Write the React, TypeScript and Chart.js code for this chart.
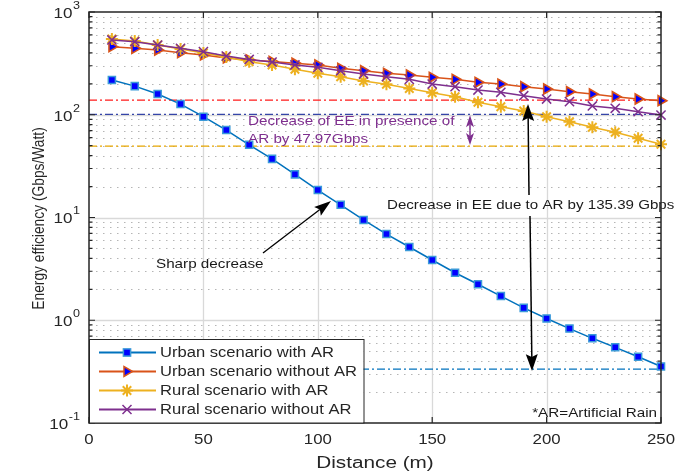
import React, { useEffect, useRef } from "react";
import { Chart, registerables } from "chart.js";

Chart.register(...registerables);

// ---------------- data ----------------
const distance = [10, 20, 30, 40, 50, 60, 70, 80, 90, 100, 110, 120, 130, 140, 150, 160, 170, 180, 190, 200, 210, 220, 230, 240, 250];
const urbanWithAR = [218, 190, 159, 127, 95.7, 71, 51, 37.2, 26.3, 18.5, 13.3, 9.46, 6.9, 5.16, 3.86, 2.9, 2.24, 1.72, 1.32, 1.04, 0.83, 0.667, 0.545, 0.442, 0.355];
const urbanWithoutAR = [460, 443, 427, 402, 382, 357, 341, 330, 317, 305, 283, 268, 253, 244, 231.5, 221, 207, 199, 187.5, 178, 167.6, 159.2, 149.8, 142.3, 137];
const ruralWithAR = [546, 522, 477, 436, 399, 365, 328, 305, 277, 253, 234.6, 213, 198, 180, 163.9, 149.8, 132.2, 119.8, 108.8, 95.7, 85.6, 75.5, 67.5, 59, 51.6];
const ruralWithoutAR = [534, 514, 477, 443, 411, 373, 345, 326, 305, 289.5, 268, 249, 234.6, 221, 199, 187.5, 174, 165.4, 153.2, 142.3, 134, 121.7, 115.6, 107.1, 99.4];

const seriesLabels = ["Urban scenario with AR", "Urban scenario without AR", "Rural scenario with AR", "Rural scenario without AR"];

const xTickValues = [0, 50, 100, 150, 200, 250];
const yDecadeValues = [0.1, 1, 10, 100, 1000];
const yDecadeExponents = ["-1", "0", "1", "2", "3"];

// reference (dash-dot) levels
const refUrbanWithoutLevel = 139;
const refRuralWithoutLevel = 101;
const refRuralWithLevel = 49.6;
const refUrbanWithLevel = 0.335;

const annotationRural = ["Decrease of EE in presence of", "AR by 47.97Gbps"];
const annotationUrban = "Decrease in EE due to AR by 135.39 Gbps";
const annotationSharp = "Sharp decrease";
const footnote = "*AR=Artificial Rain";
const xTitle = "Distance (m)";
const yTitle = "Energy efficiency (Gbps/Watt)";

// ---------------- style ----------------
const FONT = '"Liberation Sans", Arial, Helvetica, sans-serif';
const TXT = "#262626";
const C_BLUE = "#0072bd";
const C_ORANGE = "#d95319";
const C_YELLOW = "#edb120";
const C_PURPLE = "#7e2f8e";
const SX = 1.2; // horizontal text stretch of the reference

function sText(ctx: CanvasRenderingContext2D, text: string, x: number, y: number, align: CanvasTextAlign, size: number, color: string) {
  ctx.save();
  ctx.translate(x, y);
  ctx.scale(SX, 1);
  ctx.font = `${size}px ${FONT}`;
  ctx.fillStyle = color;
  ctx.textAlign = align;
  ctx.textBaseline = "middle";
  ctx.fillText(text, 0, 0);
  ctx.restore();
}

function drawArrow(ctx: CanvasRenderingContext2D, x1: number, y1: number, x2: number, y2: number, color: string, lw: number, headLen: number, headW: number) {
  const ang = Math.atan2(y2 - y1, x2 - x1);
  const bx = x2 - Math.cos(ang) * headLen;
  const by = y2 - Math.sin(ang) * headLen;
  ctx.save();
  ctx.strokeStyle = color;
  ctx.fillStyle = color;
  ctx.lineWidth = lw;
  ctx.setLineDash([]);
  ctx.beginPath();
  ctx.moveTo(x1, y1);
  ctx.lineTo(bx, by);
  ctx.stroke();
  const px = -Math.sin(ang) * headW / 2;
  const py = Math.cos(ang) * headW / 2;
  ctx.beginPath();
  ctx.moveTo(x2, y2);
  ctx.lineTo(bx + px - Math.cos(ang) * 3, by + py - Math.sin(ang) * 3);
  ctx.lineTo(bx, by);
  ctx.lineTo(bx - px - Math.cos(ang) * 3, by - py - Math.sin(ang) * 3);
  ctx.closePath();
  ctx.fill();
  ctx.restore();
}

function drawMarker(ctx: CanvasRenderingContext2D, kind: number, x: number, y: number) {
  ctx.save();
  ctx.setLineDash([]);
  if (kind === 0) {
    const s = 3.6;
    ctx.fillStyle = "#0000ff";
    ctx.strokeStyle = "#3a9ad9";
    ctx.lineWidth = 1.5;
    ctx.fillRect(x - s, y - s, 2 * s, 2 * s);
    ctx.strokeRect(x - s, y - s, 2 * s, 2 * s);
  } else if (kind === 1) {
    ctx.fillStyle = "#0000ff";
    ctx.strokeStyle = C_ORANGE;
    ctx.lineWidth = 1.5;
    ctx.beginPath();
    ctx.moveTo(x + 5.5, y);
    ctx.lineTo(x - 3, y - 5);
    ctx.lineTo(x - 3, y + 5);
    ctx.closePath();
    ctx.fill();
    ctx.stroke();
  } else if (kind === 2) {
    ctx.strokeStyle = C_YELLOW;
    ctx.lineWidth = 2;
    const r = 6;
    ctx.beginPath();
    ctx.moveTo(x - r, y); ctx.lineTo(x + r, y);
    ctx.moveTo(x, y - r); ctx.lineTo(x, y + r);
    const d = r * 0.707;
    ctx.moveTo(x - d, y - d); ctx.lineTo(x + d, y + d);
    ctx.moveTo(x - d, y + d); ctx.lineTo(x + d, y - d);
    ctx.stroke();
  } else {
    ctx.strokeStyle = C_PURPLE;
    ctx.lineWidth = 1.5;
    const d = 4.5;
    ctx.beginPath();
    ctx.moveTo(x - d, y - d); ctx.lineTo(x + d, y + d);
    ctx.moveTo(x - d, y + d); ctx.lineTo(x + d, y - d);
    ctx.stroke();
  }
  ctx.restore();
}

const matlabPlugin = {
  id: "matlabStyle",
  beforeDraw(chart: any) {
    const ctx = chart.ctx as CanvasRenderingContext2D;
    ctx.save();
    ctx.fillStyle = "#ffffff";
    ctx.fillRect(0, 0, chart.width, chart.height);
    ctx.restore();
  },
  beforeDatasetsDraw(chart: any) {
    const ctx = chart.ctx as CanvasRenderingContext2D;
    const a = chart.chartArea;
    const x = chart.scales.x;
    const y = chart.scales.y;
    ctx.save();
    // minor grid (dotted)
    ctx.strokeStyle = "#b5b5b5";
    ctx.lineWidth = 1;
    ctx.setLineDash([1.5, 5.5]);
    for (let e = -1; e <= 2; e++) {
      for (let m = 2; m <= 9; m++) {
        const py = Math.round(y.getPixelForValue(m * Math.pow(10, e))) + 0.5;
        ctx.beginPath();
        ctx.moveTo(a.left, py);
        ctx.lineTo(a.right, py);
        ctx.stroke();
      }
    }
    // major grid
    ctx.setLineDash([]);
    ctx.strokeStyle = "#d9d9d9";
    ctx.lineWidth = 1.3;
    yDecadeValues.slice(1, -1).forEach((v) => {
      const py = Math.round(y.getPixelForValue(v)) + 0.5;
      ctx.beginPath();
      ctx.moveTo(a.left, py);
      ctx.lineTo(a.right, py);
      ctx.stroke();
    });
    xTickValues.slice(1, -1).forEach((v) => {
      const px = Math.round(x.getPixelForValue(v)) + 0.5;
      ctx.beginPath();
      ctx.moveTo(px, a.top);
      ctx.lineTo(px, a.bottom);
      ctx.stroke();
    });
    // reference dash-dot lines
    const refs: [number, string][] = [
      [refUrbanWithoutLevel, "#ff1a1a"],
      [refRuralWithoutLevel, "#3545a8"],
      [refRuralWithLevel, "#e8a600"],
      [refUrbanWithLevel, C_BLUE],
    ];
    ctx.setLineDash([8, 3, 2, 3]);
    ctx.lineWidth = 1.3;
    refs.forEach(([v, c]) => {
      const py = y.getPixelForValue(v);
      ctx.strokeStyle = c;
      ctx.beginPath();
      ctx.moveTo(a.left, py);
      ctx.lineTo(a.right, py);
      ctx.stroke();
    });
    ctx.restore();
  },
  afterDatasetsDraw(chart: any) {
    const ctx = chart.ctx as CanvasRenderingContext2D;
    const a = chart.chartArea;
    const x = chart.scales.x;
    const y = chart.scales.y;
    ctx.save();
    ctx.setLineDash([]);

    // annotations
    sText(ctx, annotationRural[0], 248, 121, "left", 12.7, C_PURPLE);
    sText(ctx, annotationRural[1], 248, 139, "left", 12.7, C_PURPLE);
    // purple double arrow
    const pax = 470;
    const pTop = y.getPixelForValue(refRuralWithoutLevel) + 1;
    const pBot = y.getPixelForValue(refRuralWithLevel) - 1;
    const pMid = (pTop + pBot) / 2;
    drawArrow(ctx, pax, pMid, pax, pTop, C_PURPLE, 1.5, 9, 8);
    drawArrow(ctx, pax, pMid, pax, pBot, C_PURPLE, 1.5, 9, 8);

    // black vertical arrows
    const ty = 206;
    drawArrow(ctx, 529, ty - 11, 528, y.getPixelForValue(refUrbanWithoutLevel) + 4, "#000000", 1.5, 14, 12);
    drawArrow(ctx, 530, ty + 10, 532, y.getPixelForValue(refUrbanWithLevel) + 2, "#000000", 1.5, 14, 12);
    sText(ctx, annotationUrban, 387, ty, "left", 12.6, "#1a1a1a");

    // sharp decrease
    sText(ctx, annotationSharp, 156, 264, "left", 12.7, "#1a1a1a");
    drawArrow(ctx, 263, 253, 331, 201, "#000000", 1.3, 14, 11);

    // footnote
    sText(ctx, footnote, 657, 413, "right", 12.7, "#1a1a1a");

    // axes box
    ctx.strokeStyle = TXT;
    ctx.lineWidth = 1.5;
    ctx.strokeRect(a.left, a.top, a.right - a.left, a.bottom - a.top);

    // ticks
    ctx.lineWidth = 1.2;
    ctx.beginPath();
    for (let e = -1; e <= 2; e++) {
      for (let m = 2; m <= 9; m++) {
        const py = y.getPixelForValue(m * Math.pow(10, e));
        ctx.moveTo(a.left, py); ctx.lineTo(a.left + 3.5, py);
        ctx.moveTo(a.right, py); ctx.lineTo(a.right - 3.5, py);
      }
    }
    yDecadeValues.forEach((v) => {
      const py = y.getPixelForValue(v);
      ctx.moveTo(a.left, py); ctx.lineTo(a.left + 6, py);
      ctx.moveTo(a.right, py); ctx.lineTo(a.right - 6, py);
    });
    xTickValues.forEach((v) => {
      const px = x.getPixelForValue(v);
      ctx.moveTo(px, a.bottom); ctx.lineTo(px, a.bottom - 6);
      ctx.moveTo(px, a.top); ctx.lineTo(px, a.top + 6);
    });
    ctx.stroke();

    // x tick labels
    xTickValues.forEach((v) => {
      sText(ctx, String(v), x.getPixelForValue(v), a.bottom + 17, "center", 14, TXT);
    });
    // y tick labels 10^n
    yDecadeValues.forEach((v, i) => {
      const py = y.getPixelForValue(v);
      const exp = yDecadeExponents[i];
      ctx.font = `10.5px ${FONT}`;
      const ew = ctx.measureText(exp).width * SX;
      const right = 80;
      sText(ctx, exp, right - ew, py - 6, "left", 10.5, TXT);
      sText(ctx, "10", right - ew - 0.5, py + 2, "right", 14.2, TXT);
    });

    // axis titles
    sText(ctx, xTitle, (a.left + a.right) / 2, 463, "center", 17.3, TXT);
    ctx.save();
    ctx.translate(39, (a.top + a.bottom) / 2 + 1);
    ctx.rotate(-Math.PI / 2);
    ctx.scale(1, SX);
    ctx.font = `13.8px ${FONT}`;
    ctx.fillStyle = TXT;
    ctx.textAlign = "center";
    ctx.textBaseline = "middle";
    ctx.fillText(yTitle, 0, 0);
    ctx.restore();

    // legend
    const lx = a.left, ly = 339.5, lw = 274.5, lh = a.bottom - ly;
    ctx.fillStyle = "#ffffff";
    ctx.fillRect(lx, ly, lw, lh);
    ctx.strokeStyle = TXT;
    ctx.lineWidth = 1;
    ctx.strokeRect(lx + 0.5, ly, lw, lh);
    const colors = [C_BLUE, C_ORANGE, C_YELLOW, C_PURPLE];
    seriesLabels.forEach((lab, i) => {
      const ry = 352.5 + i * 19;
      ctx.strokeStyle = colors[i];
      ctx.lineWidth = 1.8;
      ctx.beginPath();
      ctx.moveTo(99, ry);
      ctx.lineTo(156, ry);
      ctx.stroke();
      drawMarker(ctx, i, 127, ry);
      sText(ctx, lab, 160, ry + 0.5, "left", 13.8, TXT);
    });

    ctx.restore();
  },
};

export default function App() {
  const ref = useRef<HTMLCanvasElement | null>(null);
  useEffect(() => {
    if (!ref.current) return;
    const mk = (vals: number[]) => distance.map((d, i) => ({ x: d, y: vals[i] }));
    const chart = new Chart(ref.current, {
      type: "line",
      data: {
        datasets: [
          {
            label: seriesLabels[0], data: mk(urbanWithAR), borderColor: C_BLUE, borderWidth: 1.5,
            pointStyle: "rect", pointRadius: 5, pointBackgroundColor: "#0000ff", pointBorderColor: "#3a9ad9",
            pointBorderWidth: 1.5, order: 4, clip: false as any,
          },
          {
            label: seriesLabels[1], data: mk(urbanWithoutAR), borderColor: C_ORANGE, borderWidth: 1.5,
            pointStyle: "triangle", pointRotation: 90, pointRadius: 5.8, pointBackgroundColor: "#0000ff",
            pointBorderColor: C_ORANGE, pointBorderWidth: 1.6, order: 3, clip: false as any,
          },
          {
            label: seriesLabels[2], data: mk(ruralWithAR), borderColor: C_YELLOW, borderWidth: 1.5,
            pointStyle: "star", pointRadius: 6, pointBackgroundColor: C_YELLOW, pointBorderColor: C_YELLOW,
            pointBorderWidth: 2, order: 2, clip: false as any,
          },
          {
            label: seriesLabels[3], data: mk(ruralWithoutAR), borderColor: C_PURPLE, borderWidth: 1.5,
            pointStyle: "crossRot", pointRadius: 6.5, pointBackgroundColor: C_PURPLE, pointBorderColor: C_PURPLE,
            pointBorderWidth: 1.5, order: 1, clip: false as any,
          },
        ],
      },
      options: {
        animation: false,
        responsive: false,
        maintainAspectRatio: false,
        layout: { padding: { top: 12, right: 28, left: 0, bottom: 0 } },
        plugins: { legend: { display: false }, tooltip: { enabled: false } },
        scales: {
          x: {
            type: "linear", min: 0, max: 250,
            ticks: { display: false }, grid: { display: false }, border: { display: false },
            afterFit: (s: any) => { s.height = 51; },
          },
          y: {
            type: "logarithmic", min: 0.1, max: 1000,
            ticks: { display: false }, grid: { display: false }, border: { display: false },
            afterFit: (s: any) => { s.width = 89; },
          },
        },
      },
      plugins: [matlabPlugin],
    });
    return () => chart.destroy();
  }, []);
  return (
    <div style={{ position: "fixed", left: 0, top: 0, width: 689, height: 474 }}>
      <canvas ref={ref} width={689} height={474} style={{ width: 689, height: 474, display: "block" }} />
    </div>
  );
}
